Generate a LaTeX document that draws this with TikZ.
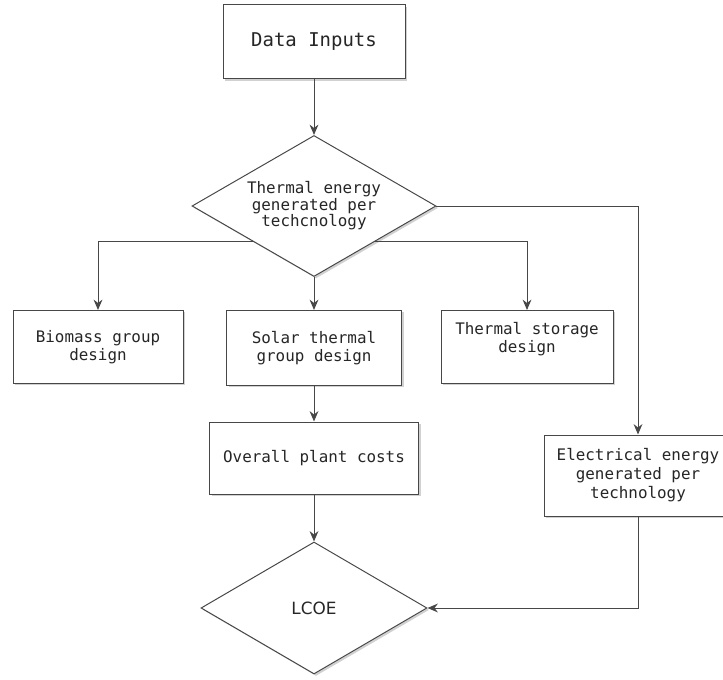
\documentclass[tikz,border=0pt]{standalone}
\usepackage{fontspec}
\setmonofont{DejaVu Sans Mono}
\setsansfont{DejaVu Sans}
\usepackage{tikz}
\usetikzlibrary{arrows.meta}
\usetikzlibrary{shapes.geometric}
\usetikzlibrary{shadows}
\definecolor{linegray}{gray}{0.28}
\definecolor{textgray}{gray}{0.15}
\tikzset{
  >={Stealth[length=2.6mm,width=2.2mm]},
  %softShadow/.style={drop shadow},
  softshade/.style={drop shadow={shadow xshift=0.05cm,shadow yshift=-0.05cm,fill=black!30,opacity=0.6}},
  wire/.style={draw=linegray,line width=0.7pt},
  flow/.style={wire,->},
  stepbox/.style={rectangle,wire,fill=white,softshade,inner sep=0pt,align=center,
    text=textgray,font=\ttfamily\fontsize{11.3}{12.5}\selectfont},
  choice/.style={diamond,wire,fill=white,softshade,inner sep=0pt,align=center,
    text=textgray,aspect=1.73,font=\ttfamily\fontsize{11.3}{11.8}\selectfont}
}
\begin{document}
\begin{tikzpicture}
  \clip (0,0) rectangle (18.075,16.975);
  \node (inputs)  at (7.85,15.925) [stepbox,minimum width=4.55cm,minimum height=1.85cm,
    font=\ttfamily\fontsize{13.5}{15}\selectfont] {Data Inputs};
  \node (thermal) at (7.85,11.825) [choice,minimum width=6.1cm,minimum height=3.525cm]
    {Thermal energy\\generated per\\techcnology};
  \node (biomass) at (2.45,8.3)    [stepbox,minimum width=4.25cm,minimum height=1.825cm]
    {Biomass group\\design};
  \node (solar)   at (7.85,8.275)  [stepbox,minimum width=4.375cm,minimum height=1.875cm]
    {Solar thermal\\group design};
  \node (storage) at (13.175,8.3)  [stepbox,minimum width=4.3cm,minimum height=1.825cm]
    {Thermal storage\\design\\[0.05cm]};
  \node (costs)   at (7.85,5.525)  [stepbox,minimum width=5.225cm,minimum height=1.8cm]
    {Overall plant costs};
  \node (elec)    at (15.95,5.0875) [stepbox,minimum width=4.7cm,minimum height=2.025cm,
    font=\ttfamily\fontsize{11.3}{13.5}\selectfont]
    {Electrical energy\\generated per\\technology};
  \node (lcoe)    at (7.85,1.775)  [choice,minimum width=5.65cm,minimum height=3.3cm,
    aspect=1.71,font=\sffamily\fontsize{12}{14}\selectfont] {LCOE};
  \draw (inputs) -- (thermal) [flow];
  \draw (thermal.south west) -| (biomass) [flow];
  \draw (thermal.south) -- (solar) [flow];
  \draw (thermal.south east) -| (storage) [flow];
  \draw (thermal.east) -| (elec) [flow];
  \draw (solar) -- (costs) [flow];
  \draw (costs) -- (lcoe) [flow];
  \draw (elec.south) |- (lcoe.east) [flow];
\end{tikzpicture}
\end{document}
